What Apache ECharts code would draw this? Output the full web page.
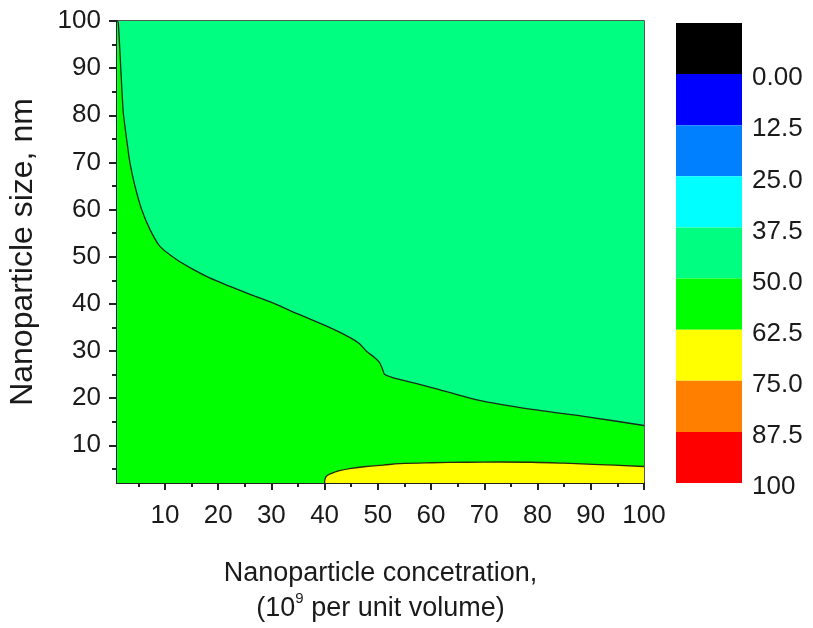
<!DOCTYPE html>
<html>
<head>
<meta charset="utf-8">
<script src="https://cdn.jsdelivr.net/npm/echarts@6/dist/echarts.min.js"></script>
<style>
  html, body { margin: 0; padding: 0; background: #fff; }
  #chart { width: 813px; height: 628px; }
</style>
</head>
<body>
<div id="chart"></div>
<script>
// contour between 37.5-50 and 50-62.5 levels
const x50 = [1.1, 1.24, 1.56, 1.88, 2.18, 2.81, 3.43, 4.37, 5.63, 7.18, 9.06, 12.19, 15.3, 18.4, 22, 26, 30, 35.3, 40.9, 44.7, 46.5, 47.9, 49.2, 50.3, 50.8, 51.3, 53, 55, 60.3, 68.4, 79, 89, 100];
const y50 = [100, 99.7, 93.3, 86.2, 80.6, 74.9, 69.9, 65.0, 60.0, 55.8, 52.2, 49.4, 47.3, 45.5, 43.8, 42.0, 40.3, 37.7, 35.0, 32.9, 31.6, 29.9, 28.8, 27.6, 26.4, 25.0, 24.3, 23.7, 22.2, 19.7, 17.6, 16.1, 14.2];
// contour at 62.5 (yellow region)
const x62 = [40, 40.1, 40.4, 41.2, 42.8, 45, 47.8, 51, 54.1, 60, 66.6, 73, 79, 85, 91.6, 100];
const y62 = [2, 2.9, 3.5, 4.0, 4.6, 5.1, 5.5, 5.8, 6.1, 6.3, 6.4, 6.45, 6.4, 6.2, 5.9, 5.5];
// top region
const xTop = [1, 100];
const yTop = [100, 100];

const xTicks = [10, 20, 30, 40, 50, 60, 70, 80, 90, 100];
const xMinor = [5, 15, 25, 35, 45, 55, 65, 75, 85, 95];
const yTicks = [10, 20, 30, 40, 50, 60, 70, 80, 90, 100];
const yMinor = [5, 15, 25, 35, 45, 55, 65, 75, 85, 95];

// colour scale
const bandLow = [-12.5, 0, 12.5, 25, 37.5, 50, 62.5, 75, 87.5];
const bandHigh = [0, 12.5, 25, 37.5, 50, 62.5, 75, 87.5, 100];
const bandColors = ['#000000', '#0000ff', '#0080ff', '#00ffff', '#00ff80', '#00ff00', '#ffff00', '#ff8000', '#ff0000'];
const levelValues = [0, 12.5, 25, 37.5, 50, 62.5, 75, 87.5, 100];
const levelLabels = ['0.00', '12.5', '25.0', '37.5', '50.0', '62.5', '75.0', '87.5', '100'];

const zip = (a, b) => a.map((v, i) => [v, b[i]]);
const font = 'Liberation Sans, Arial, sans-serif';
const txt = '#1a1a1a';

const myChart = echarts.init(document.getElementById('chart'));

const option = {
  animation: false,
  grid: [
    { left: 117, top: 21, right: 169, bottom: 145, outerBoundsMode: 'none', show: true, borderColor: '#222', borderWidth: 1.5, backgroundColor: 'transparent' },
    { left: 676, top: 23, width: 66, height: 460, outerBoundsMode: 'none' }
  ],
  xAxis: [
    {
      type: 'value', gridIndex: 0, min: 1, max: 100, position: 'bottom',
      axisLine: { lineStyle: { color: '#222', width: 2 } },
      axisTick: { customValues: xTicks, length: 7, lineStyle: { color: '#222', width: 2 } },
      axisLabel: { customValues: xTicks, fontSize: 26, fontFamily: font, color: txt, margin: 20 },
      splitLine: { show: false },
      name: 'Nanoparticle concetration,\n(10{sup|9} per unit volume)',
      nameLocation: 'middle',
      nameGap: 73,
      nameTextStyle: {
        fontSize: 27, fontFamily: font, color: txt, lineHeight: 35, align: 'center',
        rich: { sup: { fontSize: 15, fontFamily: font, color: txt, verticalAlign: 'top', lineHeight: 35, padding: [0, 0, 12, 0] } }
      }
    },
    {
      type: 'value', gridIndex: 0, min: 1, max: 100, position: 'bottom',
      axisLine: { show: false },
      axisTick: { customValues: xMinor, length: 4, lineStyle: { color: '#222', width: 2 } },
      axisLabel: { show: false },
      splitLine: { show: false }
    },
    { type: 'value', gridIndex: 1, min: 0, max: 1, show: false }
  ],
  yAxis: [
    {
      type: 'value', gridIndex: 0, min: 2, max: 100, position: 'left',
      axisLine: { lineStyle: { color: '#222', width: 2 } },
      axisTick: { customValues: yTicks, length: 8, lineStyle: { color: '#222', width: 2 } },
      axisLabel: { customValues: yTicks, fontSize: 26, fontFamily: font, color: txt, margin: 16 },
      splitLine: { show: false },
      name: 'Nanoparticle size, nm',
      nameLocation: 'middle',
      nameGap: 78,
      nameTextStyle: { fontSize: 32, fontFamily: font, color: txt }
    },
    {
      type: 'value', gridIndex: 0, min: 2, max: 100, position: 'left',
      axisLine: { show: false },
      axisTick: { customValues: yMinor, length: 5, lineStyle: { color: '#222', width: 2 } },
      axisLabel: { show: false },
      splitLine: { show: false }
    },
    {
      type: 'value', gridIndex: 1, min: -12.5, max: 100, inverse: true, position: 'right',
      axisLine: { show: false },
      axisTick: { show: false },
      splitLine: { show: false },
      axisLabel: {
        customValues: levelValues,
        margin: 10,
        formatter: (v) => '{a|' + (levelLabels[levelValues.indexOf(v)] || '') + '}',
        rich: { a: { fontSize: 26, fontFamily: font, color: txt, padding: [8, 0, 0, 0] } }
      }
    }
  ],
  series: [
    {
      type: 'line', xAxisIndex: 0, yAxisIndex: 0,
      data: zip(xTop, yTop), showSymbol: false,
      lineStyle: { width: 0 },
      areaStyle: { color: '#00ff80', opacity: 1, origin: 'start' }
    },
    {
      type: 'line', xAxisIndex: 0, yAxisIndex: 0,
      data: zip(x50, y50), showSymbol: false,
      smooth: 0.2,
      lineStyle: { color: '#1a2a1a', width: 1.3 },
      areaStyle: { color: '#00ff00', opacity: 1, origin: 'start' }
    },
    {
      type: 'line', xAxisIndex: 0, yAxisIndex: 0,
      data: zip(x62, y62), showSymbol: false,
      smooth: 0.4,
      lineStyle: { color: '#2a2a10', width: 1.3 },
      areaStyle: { color: '#ffff00', opacity: 1, origin: 'start' }
    },
    {
      type: 'custom', xAxisIndex: 2, yAxisIndex: 2,
      data: bandLow.map((lo, i) => [lo, bandHigh[i]]),
      renderItem: function (params, api) {
        const p1 = api.coord([0, api.value(0)]);
        const p2 = api.coord([1, api.value(1)]);
        return {
          type: 'rect',
          shape: { x: p1[0], y: Math.min(p1[1], p2[1]), width: p2[0] - p1[0], height: Math.abs(p2[1] - p1[1]) },
          style: { fill: bandColors[params.dataIndex] }
        };
      }
    }
  ]
};

myChart.setOption(option);
</script>
</body>
</html>
